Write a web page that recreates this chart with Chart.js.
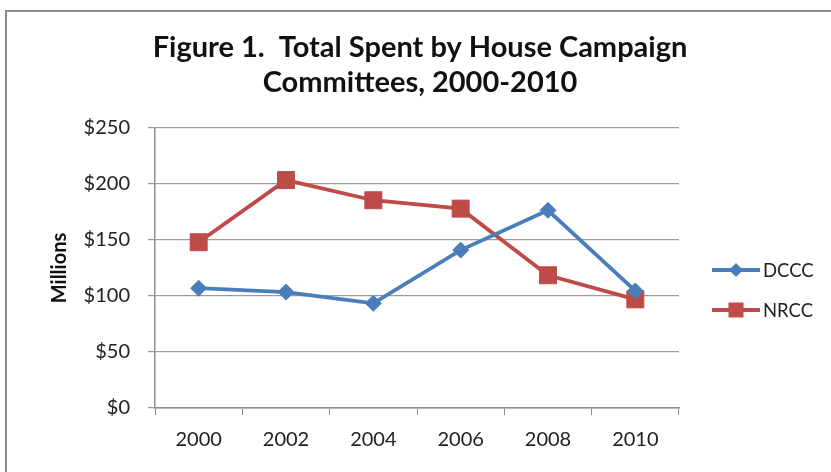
<!DOCTYPE html>
<html>
<head>
<meta charset="utf-8">
<script src="https://cdn.jsdelivr.net/npm/chart.js@4/dist/chart.umd.min.js"></script>
<style>
  html, body { margin: 0; padding: 0; background: #fff; }
  #wrap { width: 831px; height: 472px; position: relative; }
</style>
</head>
<body>
<div id="wrap"><canvas id="spendChart"></canvas></div>
<script>
// chart values (millions of dollars)
const years = ['2000', '2002', '2004', '2006', '2008', '2010'];
const dcccSpent = [107, 103.5, 93.5, 141, 176.5, 104.5];
const nrccSpent = [148, 203.5, 185.5, 178, 118.5, 97];
const yTicks = [0, 50, 100, 150, 200, 250];
const titleLines = ['Figure 1.  Total Spent by House Campaign', 'Committees, 2000-2010'];

const FONT = 'Lato, "Open Sans", sans-serif';

// grey frame round the whole figure (right/bottom run off the picture)
const framePlugin = {
    id: 'frame',
    beforeDraw(chart) {
        const ctx = chart.ctx;
        ctx.save();
        ctx.fillStyle = '#fff';
        ctx.fillRect(0, 0, chart.width, chart.height);
        ctx.strokeStyle = '#8c8c8c';
        ctx.lineWidth = 2;
        ctx.strokeRect(6, 11, 1000, 800);
        ctx.restore();
    }
};

// title is centred on the whole figure, not on the plot area
const figTitle = {
    id: 'figTitle',
    afterDraw(chart) {
        const ctx = chart.ctx;
        ctx.save();
        ctx.fillStyle = '#111';
        ctx.font = 'bold 29px ' + FONT;
        ctx.textAlign = 'center';
        ctx.textBaseline = 'middle';
        titleLines.forEach((t, i) => ctx.fillText(t, 420, 48 + i * 35));
        ctx.restore();
    }
};

// legend: line with marker, like the spreadsheet legend
const lineLegend = {
    id: 'lineLegend',
    afterDraw(chart) {
        const ctx = chart.ctx;
        const x0 = 712, x1 = 760;
        let y = 270;
        chart.data.datasets.forEach(ds => {
            ctx.save();
            ctx.strokeStyle = ds.borderColor;
            ctx.lineWidth = ds.borderWidth;
            ctx.beginPath();
            ctx.moveTo(x0, y);
            ctx.lineTo(x1, y);
            ctx.stroke();
            const cx = (x0 + x1) / 2;
            ctx.fillStyle = ds.pointBackgroundColor;
            ctx.beginPath();
            if (ds.pointStyle === 'rectRot') {
                const r = 7;
                ctx.moveTo(cx, y - r);
                ctx.lineTo(cx + r, y);
                ctx.lineTo(cx, y + r);
                ctx.lineTo(cx - r, y);
                ctx.closePath();
            } else {
                ctx.rect(cx - 7.5, y - 7.5, 15, 15);
            }
            ctx.fill();
            ctx.fillStyle = '#222';
            ctx.font = '18.5px ' + FONT;
            ctx.textBaseline = 'middle';
            ctx.fillText(ds.label, x1 + 3, y + 1);
            ctx.restore();
            y += 40;
        });
    }
};

const ctx = document.getElementById('spendChart').getContext('2d');
const myChart = new Chart(ctx, {
    type: 'line',
    data: {
        labels: years,
        datasets: [
            {
                label: 'DCCC',
                data: dcccSpent,
                borderColor: '#4a7ebb',
                backgroundColor: '#4a7ebb',
                pointBackgroundColor: '#4a7ebb',
                pointBorderColor: '#4a7ebb',
                borderWidth: 3.8,
                pointStyle: 'rectRot',
                pointRadius: 8,
                pointBorderWidth: 1,
                tension: 0,
                fill: false
            },
            {
                label: 'NRCC',
                data: nrccSpent,
                borderColor: '#be4b48',
                backgroundColor: '#be4b48',
                pointBackgroundColor: '#be4b48',
                pointBorderColor: '#be4b48',
                borderWidth: 3.8,
                pointStyle: 'rect',
                pointRadius: 12,
                pointBorderWidth: 1,
                tension: 0,
                fill: false
            }
        ]
    },
    options: {
        responsive: true,
        maintainAspectRatio: false,
        animation: false,
        layout: { padding: { left: 40, right: 152, top: 128, bottom: 0 } },
        plugins: {
            legend: { display: false },
            tooltip: { enabled: false },
            title: { display: false }
        },
        scales: {
            x: {
                offset: true,
                grid: {
                    offset: true,
                    drawOnChartArea: false,
                    drawTicks: true,
                    tickLength: 7,
                    color: '#8c8c8c'
                },
                border: { color: '#8c8c8c', width: 1.5 },
                ticks: {
                    color: '#222',
                    font: { family: FONT, size: 20 },
                    padding: 13,
                    maxRotation: 0
                },
                afterFit(scale) { scale.height = 64; }
            },
            y: {
                min: 0,
                max: 250,
                afterBuildTicks(scale) {
                    scale.ticks = yTicks.map(v => ({ value: v }));
                },
                grid: {
                    color: '#9a9a9a',
                    lineWidth: 1.2,
                    drawTicks: true,
                    tickLength: 7
                },
                border: { color: '#8c8c8c', width: 1.5 },
                ticks: {
                    color: '#222',
                    font: { family: FONT, size: 20 },
                    padding: 18,
                    callback: v => '$' + v
                },
                title: {
                    display: true,
                    text: 'Millions',
                    color: '#111',
                    font: { family: FONT, size: 20, weight: 'bold' },
                    padding: { top: 8, bottom: 0 }
                },
                afterFit(scale) { scale.width = 115; }
            }
        }
    },
    plugins: [framePlugin, figTitle, lineLegend]
});
</script>
</body>
</html>
